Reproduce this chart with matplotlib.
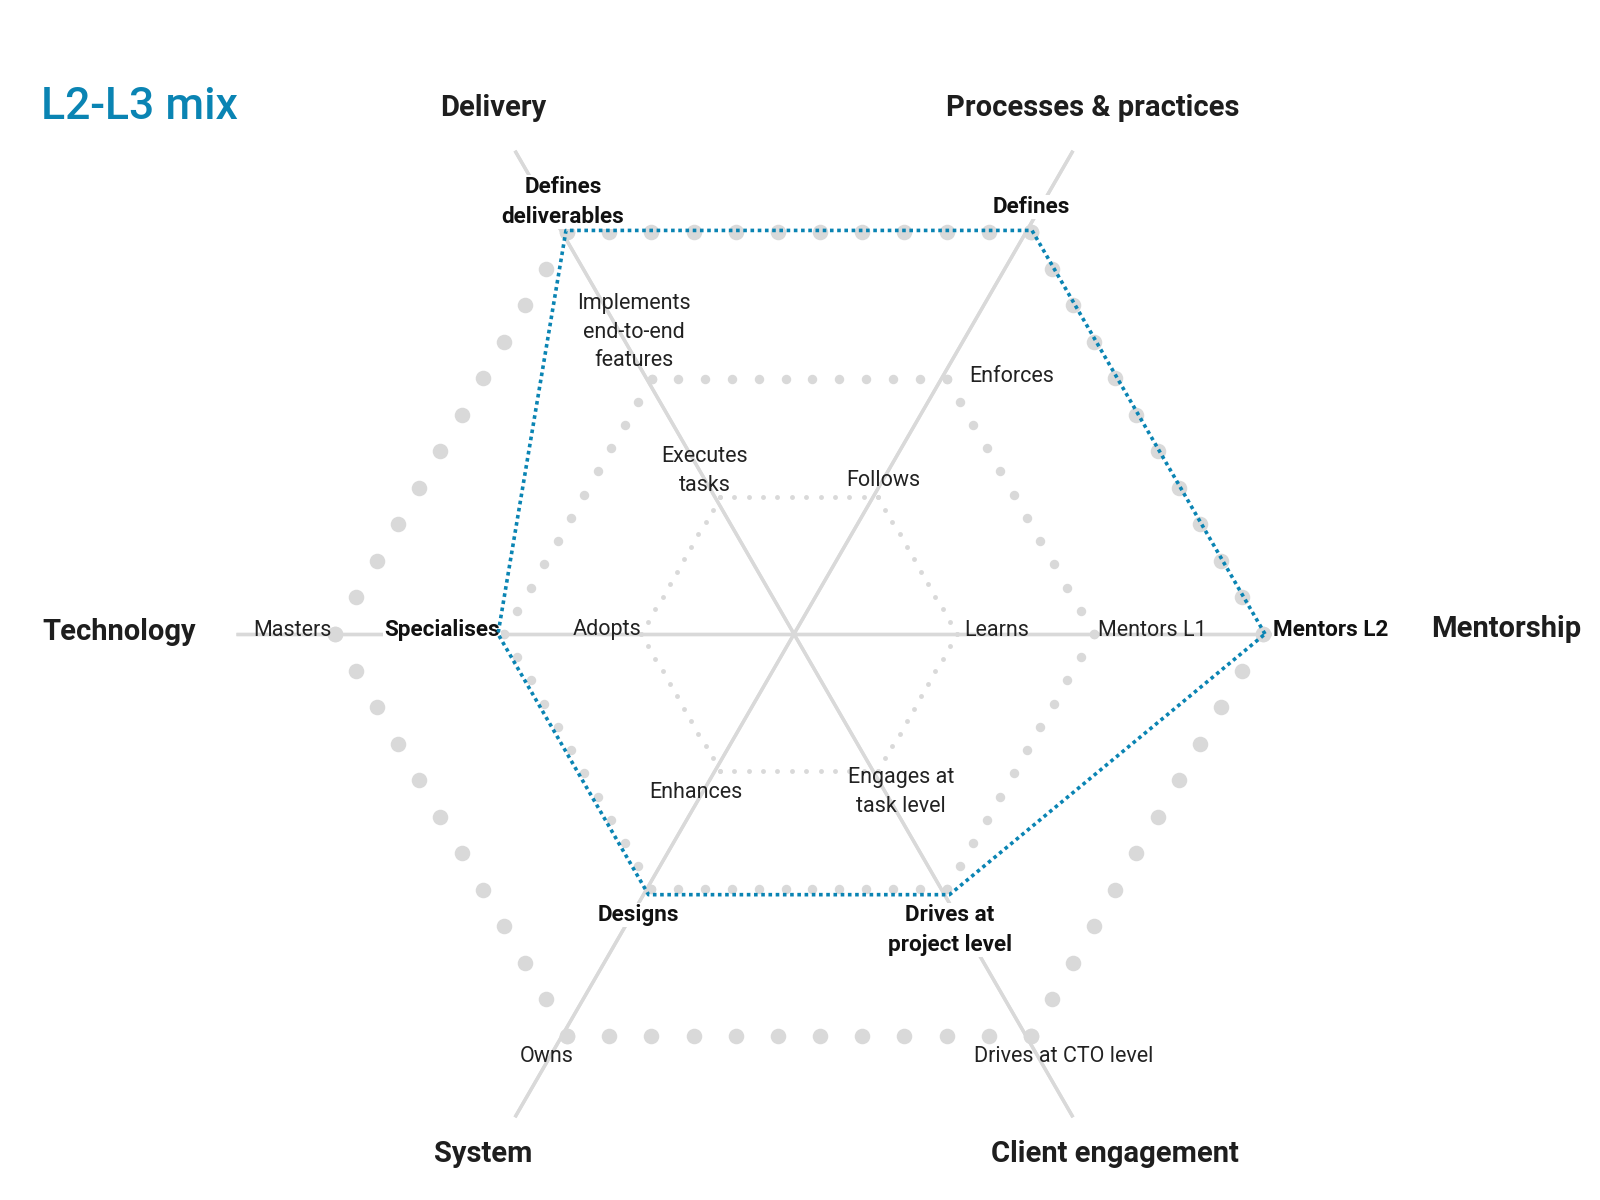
import numpy as np
import matplotlib
matplotlib.use("Agg")
import matplotlib.pyplot as plt

plt.rcParams['font.family'] = ['Roboto', 'DejaVu Sans']

# ---- data ----
axes_names = ["Mentorship", "Processes & practices", "Delivery",
              "Technology", "System", "Client engagement"]
level_labels = [
    ["Learns", "Mentors L1", "Mentors L2"],
    ["Follows", "Enforces", "Defines"],
    ["Executes\ntasks", "Implements\nend-to-end\nfeatures", "Defines\ndeliverables"],
    ["Adopts", "Specialises", "Masters"],
    ["Enhances", "Designs", "Owns"],
    ["Engages at\ntask level", "Drives at\nproject level", "Drives at CTO level"],
]
mix_levels = [3, 3, 3, 2, 2, 2]   # L2-L3 mix profile (level 1..3 per axis)
title = "L2-L3 mix"

# ---- layout / style ----
W, H = 1600, 1200
cx, cy = 794, 634          # axis crossing
hx = 799                   # hexagon grid centre x
level_radius = {1: 158, 2: 295, 3: 464}       # grid rings
profile_radius = {1: 160, 2: 301, 3: 466}     # profile outline
axis_len = 558
angles = np.deg2rad([0, 60, 120, 180, 240, 300])
dot_size = {1: 3.5, 2: 6.8, 3: 11.2}
grey = "#d9d9d9"
blue = "#0a84b3"

# text positions (pixels)
title_pos = [(1506, 629), (1093, 108), (493, 108), (119, 632), (483, 1154), (1115, 1154)]
label_pos = [
    [(997, 630), (1152, 630), (1331, 630)],
    [(883, 480), (1012, 377), (1031, 207)],
    [(705, 471), (634, 332), (563, 202)],
    [(607, 630), (442, 630), (292, 630)],
    [(696, 792), (638, 915), (547, 1057)],
    [(901, 792), (950, 930), (1064, 1057)],
]

fig = plt.figure(figsize=(16, 12), dpi=100)
ax = fig.add_axes([0, 0, 1, 1])
ax.set_xlim(0, W)
ax.set_ylim(H, 0)
ax.set_aspect('equal')
ax.axis('off')


def pt(r, a, x0=cx):
    return x0 + r * np.cos(a), cy - r * np.sin(a)


# axis lines
for a in angles:
    x0, y0 = pt(axis_len, a)
    x1, y1 = pt(axis_len, a + np.pi)
    ax.plot([x0, x1], [y0, y1], color=grey, lw=2.4, zorder=1, solid_capstyle='butt')

# dotted hexagon grid (11 gaps per edge)
t = np.linspace(0, 1, 12)
for lvl, R in level_radius.items():
    xs, ys = [], []
    for i in range(6):
        xa, ya = pt(R, angles[i], hx)
        xb, yb = pt(R, angles[(i + 1) % 6], hx)
        xs.extend(xa + (xb - xa) * t)
        ys.extend(ya + (yb - ya) * t)
    ax.plot(xs, ys, 'o', color=grey, ms=dot_size[lvl], mec='none', zorder=2)

# profile polygon
px, py = [], []
for a, lv in zip(angles, mix_levels):
    x, y = pt(profile_radius[lv], a, hx)
    px.append(x)
    py.append(y)
px.append(px[0])
py.append(py[0])
ax.plot(px, py, color=blue, lw=2.6, linestyle=(0, (1, 1)), zorder=6)

# labels
for i in range(6):
    for lv in range(3):
        bold = (lv + 1) == mix_levels[i]
        x, y = label_pos[i][lv]
        kw = dict(ha='center', va='center', linespacing=1.45)
        if bold:
            ax.text(x, y, level_labels[i][lv], fontweight='bold', color='#111111',
                    fontsize=16.2,
                    bbox=dict(boxstyle='square,pad=0.05', fc='white', ec='none'),
                    zorder=4, **kw)
        else:
            ax.text(x, y, level_labels[i][lv], color='#222222', fontsize=15.5,
                    zorder=4, **kw)

for i in range(6):
    x, y = title_pos[i]
    ax.text(x, y, axes_names[i], ha='center', va='center', fontsize=21,
            fontweight='bold', color='#1e1e1e', zorder=4)

ax.text(41, 107, title, ha='left', va='center', fontsize=32, fontweight='medium',
        color=blue, zorder=4)

fig.savefig("out.png", dpi=100)
